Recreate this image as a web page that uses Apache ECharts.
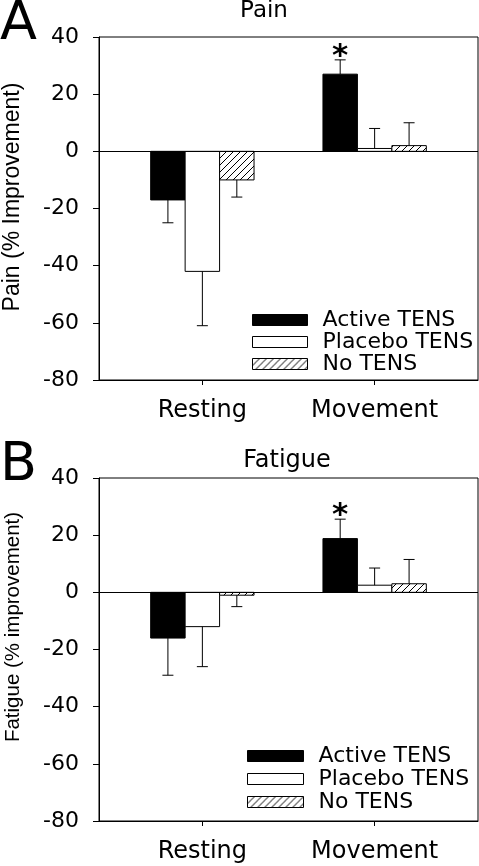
<!DOCTYPE html>
<html><head><meta charset="utf-8">
<script src="https://cdn.jsdelivr.net/npm/echarts@6/dist/echarts.min.js"></script>
<style>html,body{margin:0;padding:0;background:#fff}#c{width:479px;height:866px}</style>
</head><body><div id="c"></div>
<script>
// ---- data ----
const categories = ['Resting', 'Movement'];
const groupNames = ['Active TENS', 'Placebo TENS', 'No TENS'];
const yTicks = [-80, -60, -40, -20, 0, 20, 40];

const painActive = [-17, 27];
const painActiveErr = [8, 5];
const painPlacebo = [-42, 1];
const painPlaceboErr = [19, 7];
const painNone = [-10, 2];
const painNoneErr = [6, 8];
const painSig = [false, true];

const fatigueActive = [-16, 18.8];
const fatigueActiveErr = [13, 6.8];
const fatiguePlacebo = [-12, 2.5];
const fatiguePlaceboErr = [14, 6];
const fatigueNone = [-1, 3];
const fatigueNoneErr = [4, 8.5];
const fatigueSig = [false, true];

// ---- styles ----
const hatch = document.createElement('canvas');
hatch.width = 7; hatch.height = 7;
(function () {
  const c = hatch.getContext('2d');
  c.fillStyle = '#fff'; c.fillRect(0, 0, 7, 7);
  c.strokeStyle = '#000'; c.lineWidth = 1;
  c.beginPath();
  c.moveTo(0, 7); c.lineTo(7, 0);
  c.moveTo(-1, 1); c.lineTo(1, -1);
  c.moveTo(6, 8); c.lineTo(8, 6);
  c.stroke();
})();
const hatchFill = { image: hatch, repeat: 'repeat' };
const fills = ['#000', '#fff', hatchFill];
const offsets = [-0.2, 0, 0.2];
const halfW = 0.1;
const FONT = 'DejaVu Sans';

function makeRender(offset, fill, sig) {
  return function (params, api) {
    const x = api.value(0), y = api.value(1), e = api.value(2);
    const idx = params.dataIndex;
    const pa = api.coord([x + offset - halfW, 0]);
    const pb = api.coord([x + offset + halfW, y]);
    const cx = api.coord([x + offset, 0])[0];
    const yEndPx = api.coord([x, y + (y >= 0 ? e : -e)])[1];
    const children = [
      { type: 'rect', shape: { x: pa[0], y: Math.min(pa[1], pb[1]), width: pb[0] - pa[0], height: Math.abs(pb[1] - pa[1]) },
        style: { fill: fill, stroke: '#000', lineWidth: 1 } },
      { type: 'line', shape: { x1: cx, y1: pb[1], x2: cx, y2: yEndPx }, style: { stroke: '#000', lineWidth: 1 } },
      { type: 'line', shape: { x1: cx - 5.5, y1: yEndPx, x2: cx + 5.5, y2: yEndPx }, style: { stroke: '#000', lineWidth: 1 } }
    ];
    if (sig && sig[idx]) {
      children.push({ type: 'text', x: cx, y: yEndPx - 3,
        style: { text: '*', fontSize: 31, fontWeight: 'bold', fontFamily: FONT, fill: '#000', align: 'center', verticalAlign: 'middle' } });
    }
    return { type: 'group', children: children };
  };
}

const panels = [
  { vals: [painActive, painPlacebo, painNone], errs: [painActiveErr, painPlaceboErr, painNoneErr], sig: painSig },
  { vals: [fatigueActive, fatiguePlacebo, fatigueNone], errs: [fatigueActiveErr, fatiguePlaceboErr, fatigueNoneErr], sig: fatigueSig }
];
const gridTops = [37, 478];

const option = {
  animation: false,
  backgroundColor: '#fff',
  grid: gridTops.map(t => ({ left: 99, top: t, width: 379, height: 343, show: true, borderColor: '#000', borderWidth: 1, backgroundColor: 'transparent' })),
  xAxis: gridTops.map((t, i) => ({
    type: 'value', gridIndex: i, min: 0.4, max: 2.6,
    axisLine: { show: true, onZero: false, lineStyle: { color: '#000', width: 1 } },
    axisTick: { show: true, length: 5, customValues: [1, 2], lineStyle: { color: '#000' } },
    axisLabel: { customValues: [1, 2], formatter: v => categories[Math.round(v) - 1], fontSize: 24, fontFamily: FONT, color: '#000', margin: 19 },
    splitLine: { show: false }
  })),
  yAxis: gridTops.map((t, i) => ({
    type: 'value', gridIndex: i, min: yTicks[0], max: yTicks[yTicks.length - 1], interval: 20,
    axisLine: { show: true, onZero: false, lineStyle: { color: '#000', width: 1 } },
    axisTick: { show: true, length: 6, lineStyle: { color: '#000' } },
    axisLabel: { fontSize: 22, fontFamily: FONT, color: '#000', margin: 20 },
    splitLine: { show: false }
  })),
  legend: [
    { left: 252, top: 309, padding: 0, orient: 'vertical', itemWidth: 55, itemHeight: 11, itemGap: 0, selectedMode: false,
      textStyle: { fontSize: 22, fontFamily: FONT, color: '#000', padding: [0, 0, 0, 10] },
      data: groupNames.map((n, j) => ({ name: n, icon: 'rect', itemStyle: { color: fills[j], borderColor: '#000', borderWidth: 1 } })) },
    { left: 247, top: 745, padding: 0, orient: 'vertical', itemWidth: 56, itemHeight: 11, itemGap: 1, selectedMode: false,
      textStyle: { fontSize: 22, fontFamily: FONT, color: '#000', padding: [0, 0, 0, 10] },
      data: groupNames.map((n, j) => ({ name: n, icon: 'rect', itemStyle: { color: fills[j], borderColor: '#000', borderWidth: 1 } })) }
  ],
  graphic: [
    { type: 'text', x: 0, y: 25, style: { text: 'A', fontSize: 54, fontFamily: FONT, fill: '#000', align: 'left', verticalAlign: 'middle' } },
    { type: 'text', x: 0, y: 466, style: { text: 'B', fontSize: 54, fontFamily: FONT, fill: '#000', align: 'left', verticalAlign: 'middle' } },
    { type: 'text', x: 264, y: 11, style: { text: 'Pain', fontSize: 23, fontFamily: FONT, fill: '#000', align: 'center', verticalAlign: 'middle' } },
    { type: 'text', x: 287, y: 461, style: { text: 'Fatigue', fontSize: 24, fontFamily: FONT, fill: '#000', align: 'center', verticalAlign: 'middle' } },
    { type: 'text', x: 13, y: 197, rotation: Math.PI / 2, style: { text: 'Pain (% Improvement)', fontSize: 23, fontFamily: 'Liberation Sans', fill: '#000', align: 'center', verticalAlign: 'middle' } },
    { type: 'text', x: 13, y: 627, rotation: Math.PI / 2, style: { text: 'Fatigue (% improvement)', fontSize: 20.5, fontFamily: 'Liberation Sans', fill: '#000', align: 'center', verticalAlign: 'middle' } }
  ],
  series: []
};

panels.forEach((p, i) => {
  groupNames.forEach((n, j) => {
    const s = {
      type: 'custom', name: n, xAxisIndex: i, yAxisIndex: i,
      itemStyle: { color: fills[j], borderColor: '#000' },
      encode: { x: 0, y: 1 },
      data: categories.map((c, k) => [k + 1, p.vals[j][k], p.errs[j][k]]),
      renderItem: makeRender(offsets[j], fills[j], j === 0 ? p.sig : null)
    };
    if (j === 0) {
      s.markLine = { silent: true, symbol: ['none', 'none'], label: { show: false },
        lineStyle: { color: '#000', width: 1, type: 'solid' }, data: [{ yAxis: 0 }] };
    }
    option.series.push(s);
  });
});

const chart = echarts.init(document.getElementById('c'), null, { renderer: 'canvas' });
chart.setOption(option);
</script>
</body></html>
